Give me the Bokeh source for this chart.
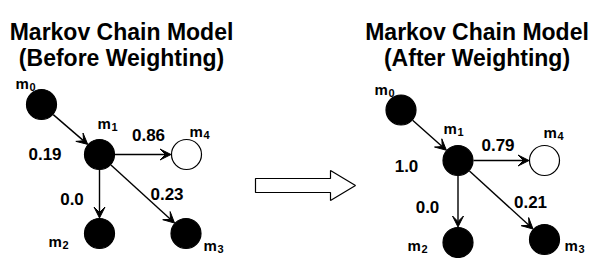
import math
from bokeh.plotting import figure
from bokeh.models import ColumnDataSource, Range1d, Arrow, VeeHead
from bokeh.core.properties import value
from bokeh.embed import file_html
from bokeh.resources import INLINE

# ---------------- data ----------------
nodes = ["m0", "m1", "m2", "m3", "m4"]
node_index = ["0", "1", "2", "3", "4"]
node_filled = [True, True, True, True, False]
edge_from = ["m0", "m1", "m1", "m1"]
edge_to = ["m1", "m4", "m2", "m3"]
weights_before = [0.19, 0.86, 0.0, 0.23]
weights_after = [1.0, 0.79, 0.0, 0.21]
title_line1 = ["Markov Chain Model", "Markov Chain Model"]
title_line2 = ["(Before Weighting)", "(After Weighting)"]

# ---------------- layout (positions in pixel space) ----------------
layouts = [
    dict(title_x=121,
         pos={"m0": (41, 104), "m1": (99, 154), "m2": (99, 233), "m3": (185.5, 233), "m4": (186, 154)},
         lab={"m0": (15, 83), "m1": (97, 123), "m2": (48, 241), "m3": (203, 245), "m4": (189, 131)},
         wlab=[(44.5, 153), (148, 134), (71.5, 198), (166.5, 193)]),
    dict(title_x=476.5,
         pos={"m0": (400.5, 109.5), "m1": (457.5, 160), "m2": (457.5, 242), "m3": (544, 239), "m4": (544, 160)},
         lab={"m0": (374, 89), "m1": (443, 128), "m2": (407, 245), "m3": (564, 245), "m4": (543, 132)},
         wlab=[(406, 165), (497.5, 144), (427, 206), (530, 201)]),
]
weights = [weights_before, weights_after]

W, H = 591, 258
X0, X1 = 0, 591
Y0, Y1 = 0, 258
sx = W / (X1 - X0)
sy = H / (Y1 - Y0)

FONT = value("Liberation Sans")

p = figure(width=W, height=H, x_range=Range1d(X0, X1), y_range=Range1d(Y1, Y0),
           output_backend="svg", toolbar_location=None, min_border=0,
           x_axis_location=None, y_axis_location=None)
p.grid.visible = False
p.outline_line_color = None
p.background_fill_color = "white"

for k, lay in enumerate(layouts):
    tx = lay["title_x"]
    p.text(x=[tx, tx], y=[31, 57], text=[title_line1[k], title_line2[k]],
           text_font=FONT, text_font_style="bold", text_font_size="23px",
           text_align="center", text_baseline="alphabetic", text_color="black")

    # edges
    xs0, ys0, xs1, ys1 = [], [], [], []
    for a, b in zip(edge_from, edge_to):
        ax, ay = lay["pos"][a]
        bx, by = lay["pos"][b]
        dx, dy = (bx - ax) * sx, (by - ay) * sy
        L = math.hypot(dx, dy)
        ux, uy = dx / L, dy / L
        xs0.append(ax + 15.5 * ux / sx)
        ys0.append(ay + 15.5 * uy / sy)
        xs1.append(bx - 15.5 * ux / sx)
        ys1.append(by - 15.5 * uy / sy)
    esrc = ColumnDataSource(dict(x0=xs0, y0=ys0, x1=xs1, y1=ys1))
    p.add_layout(Arrow(x_start="x0", y_start="y0", x_end="x1", y_end="y1", source=esrc,
                       line_width=1.4, line_color="black",
                       end=VeeHead(size=11, fill_color="black", line_color="black", line_width=1)))

    # nodes
    nx = [lay["pos"][n][0] for n in nodes]
    ny = [lay["pos"][n][1] for n in nodes]
    fills = ["black" if f else "white" for f in node_filled]
    p.scatter(x=nx, y=ny, size=30, fill_color=fills, line_color="black", line_width=1.2)

    # node labels: "m" with subscript index
    lx = [lay["lab"][n][0] for n in nodes]
    ly = [lay["lab"][n][1] for n in nodes]
    p.text(x=lx, y=ly, text=["m"] * len(nodes), text_font=FONT, text_font_style="bold",
           text_font_size="15px", text_align="left", text_baseline="alphabetic")
    p.text(x=lx, y=ly, text=node_index, text_font=FONT, text_font_style="bold",
           text_font_size="11px", text_align="left", text_baseline="alphabetic",
           x_offset=14, y_offset=3.5)

    # weight labels
    wx = [w[0] for w in lay["wlab"]]
    wy = [w[1] for w in lay["wlab"]]
    p.text(x=wx, y=wy, text=[str(w) for w in weights[k]], text_font=FONT,
           text_font_style="bold", text_font_size="17px", text_align="center",
           text_baseline="alphabetic")

# block arrow between the two panels
bx0, bx1, bcy = 255, 355, 185
body_h, head_h, head_len = 7, 15, 25
hx = bx1 - head_len
p.patch(x=[bx0, hx, hx, bx1, hx, hx, bx0],
        y=[bcy - body_h, bcy - body_h, bcy - head_h, bcy, bcy + head_h, bcy + body_h, bcy + body_h],
        fill_color="white", line_color="black", line_width=1.2)

open("out.html", "w").write(file_html(p, INLINE))
